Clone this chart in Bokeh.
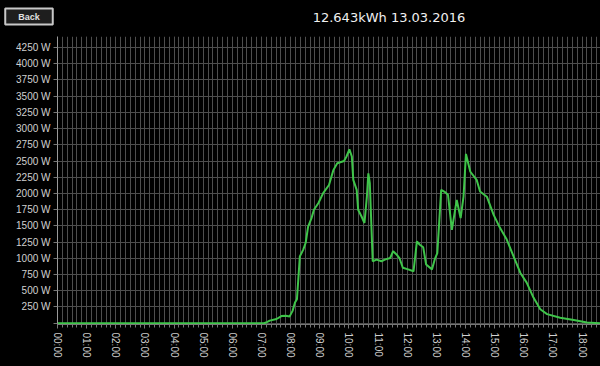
from bokeh.plotting import figure
from bokeh.models import FixedTicker, Range1d, Label
from bokeh.layouts import column
from bokeh.embed import file_html
from bokeh.resources import INLINE

# ---- data (minutes since midnight, watts) ----
minutes = [0, 425, 431, 437, 451, 461, 470, 478, 484, 489, 493, 499, 506, 511, 516,
           523, 528, 537, 547, 559, 568, 576, 590, 595, 601, 606, 609, 616, 619, 626,
           632, 637, 640, 643, 649, 657, 667, 674, 685, 691, 698, 704, 711, 722, 733,
           740, 746, 753, 759, 771, 777, 782, 790, 798, 804, 812, 822, 830, 836, 841,
           850, 863, 870, 884, 898, 911, 925, 939, 953, 966, 980, 994, 1008, 1035,
           1063, 1090, 1118]
watts = [0, 0, 15, 40, 65, 110, 115, 105, 190, 320, 370, 1030, 1135, 1240, 1490,
         1620, 1750, 1850, 2005, 2130, 2360, 2465, 2500, 2570, 2680, 2570, 2210, 2055, 1750, 1645,
         1545, 1950, 2310, 2160, 955, 980, 955, 980, 1005, 1110, 1060, 1005, 855, 830, 800,
         1260, 1210, 1170, 905, 830, 990, 1080, 2055, 2020, 1980, 1440, 1900, 1620, 1950, 2610,
         2335, 2210, 2030, 1950, 1670, 1470, 1290, 1030, 775, 625, 395, 215, 140, 85,
         50, 10, 0]

hour_ticks = [h * 60 for h in range(19)]
hour_labels = ["%02d:00" % h for h in range(19)]
watt_ticks = list(range(0, 4251, 250))
watt_labels = [""] + ["%d W" % w for w in watt_ticks[1:]]
title_text = "12.643kWh 13.03.2016"
button_text = "Back"

# ---- header (button + title) ----
head = figure(width=600, height=36, output_backend="svg", toolbar_location=None,
              x_range=Range1d(0, 600), y_range=Range1d(0, 36),
              x_axis_type=None, y_axis_type=None,
              min_border_left=0, min_border_right=0, min_border_top=0, min_border_bottom=0)
head.frame_align = False
head.background_fill_color = "black"
head.border_fill_color = "black"
head.outline_line_color = None
head.grid.visible = False

button = Label(x=28.5, y=20, x_units="screen", y_units="screen", text=button_text,
               text_align="center", text_baseline="middle", text_color="#e0e0e0",
               text_font="Liberation Sans", text_font_style="bold", text_font_size="9px",
               background_fill_color="#1e1e1e", border_line_color="#c8c8c8",
               border_line_width=2, padding=(13, 3))
head.add_layout(button)

title = Label(x=388.5, y=19, x_units="screen", y_units="screen", text=title_text,
              text_align="center", text_baseline="middle", text_color="#f0f0f0",
              text_font="DejaVu Sans", text_font_size="13px")
head.add_layout(title)

# ---- main chart ----
p = figure(width=600, height=330, output_backend="svg", toolbar_location=None,
           x_range=Range1d(0, 1118), y_range=Range1d(-20, 4420),
           min_border_left=57, min_border_right=0, min_border_top=0, min_border_bottom=42)
p.frame_align = False

p.background_fill_color = "black"
p.border_fill_color = "black"
p.outline_line_color = None

# grid
p.xgrid.grid_line_color = "#4e4e4e"
p.xgrid.minor_grid_line_color = "#4e4e4e"
p.ygrid.grid_line_color = "#4e4e4e"

p.line(minutes, watts, line_color="#3fc54a", line_width=2)

# x axis
p.xaxis.ticker = FixedTicker(ticks=hour_ticks, minor_ticks=list(range(0, 1120, 10)))
p.xaxis.major_label_overrides = {t: l for t, l in zip(hour_ticks, hour_labels)}
p.xaxis.major_label_orientation = "vertical"
p.xaxis.major_label_text_color = "#d0d0d0"
p.xaxis.major_label_text_font = "Liberation Sans"
p.xaxis.major_label_text_font_size = "10px"
p.xaxis.axis_line_color = "#777777"
p.xaxis.major_tick_line_color = "#777777"
p.xaxis.minor_tick_line_color = "#777777"
p.xaxis.major_tick_out = 4
p.xaxis.major_tick_in = 0
p.xaxis.minor_tick_out = 3
p.xaxis.minor_tick_in = 0
p.xaxis.major_label_standoff = 4

# y axis
p.yaxis.ticker = FixedTicker(ticks=watt_ticks, minor_ticks=[])
p.yaxis.major_label_overrides = {t: l for t, l in zip(watt_ticks, watt_labels)}
p.yaxis.major_label_text_color = "#d0d0d0"
p.yaxis.major_label_text_font = "Liberation Sans"
p.yaxis.major_label_text_font_size = "10px"
p.yaxis.axis_line_color = "#9a9a9a"
p.yaxis.major_tick_line_color = "#777777"
p.yaxis.major_tick_out = 4
p.yaxis.major_tick_in = 0
p.yaxis.major_label_standoff = 3

layout = column(head, p, spacing=0)
layout.styles = {"background-color": "black"}

open("out.html", "w").write(file_html(layout, INLINE))
